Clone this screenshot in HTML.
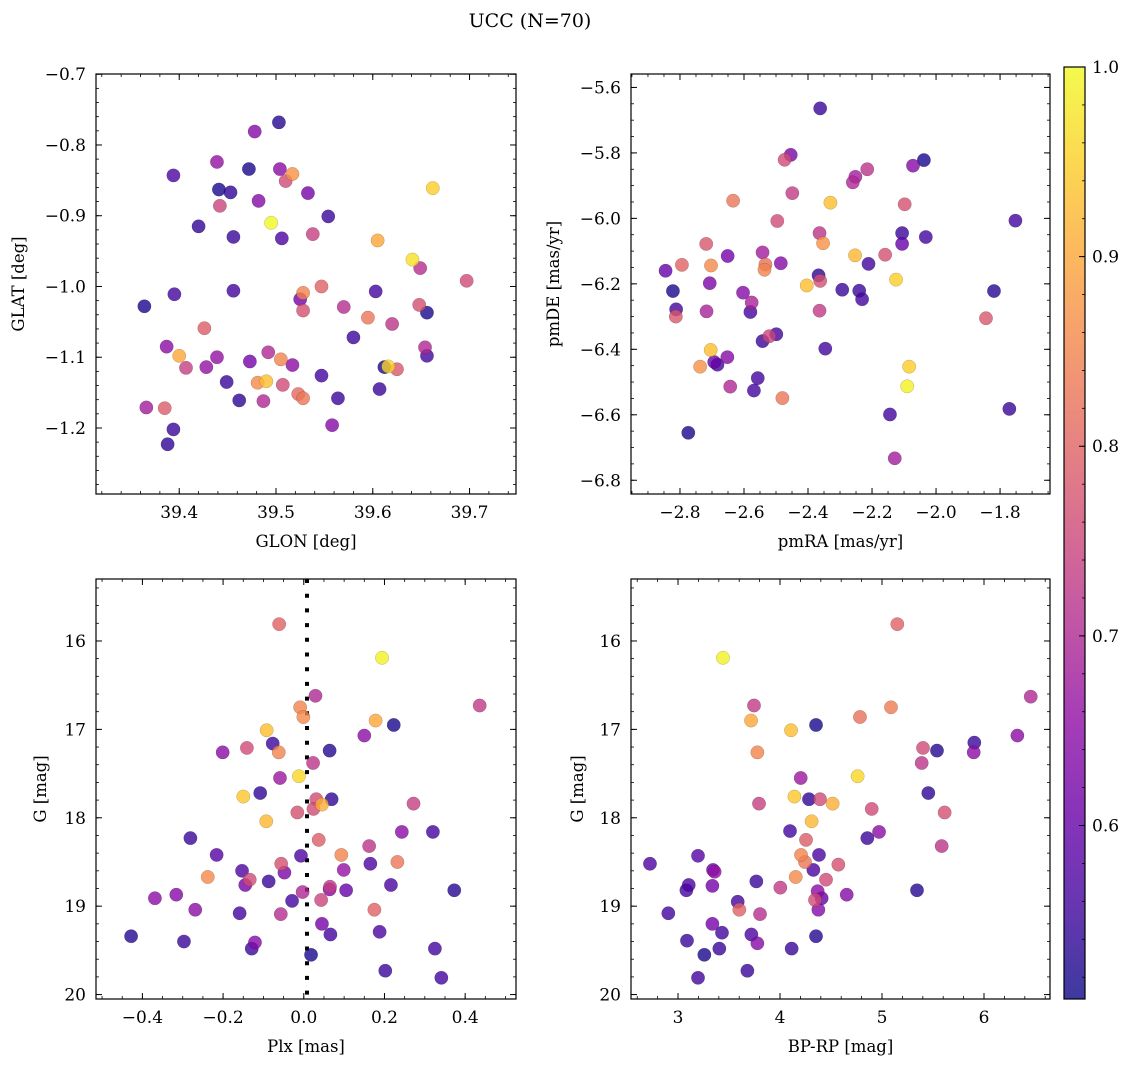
<!DOCTYPE html>
<html><head><meta charset="utf-8"><title>UCC (N=70)</title>
<style>
html,body{margin:0;padding:0;background:#fff;}
svg{display:block;font-family:"DejaVu Serif","Liberation Serif",serif;}
</style></head>
<body>
<svg id="fig" width="1136" height="1067" viewBox="0 0 1136 1067" xmlns="http://www.w3.org/2000/svg">
<defs><linearGradient id="cbgrad" x1="0" y1="1" x2="0" y2="0"></linearGradient></defs>
<text x="530" y="27" font-size="19" text-anchor="middle">UCC (N=70)</text>
</svg>
<script>
// ---- Panel 1: GLON vs GLAT ----
const p1Glon=[39.503,39.478,39.439,39.472,39.504,39.517,39.394,39.510,39.441,39.453,39.533,39.662,39.482,39.442,39.554,39.495,39.420,39.538,39.456,39.506,39.605,39.641,39.649,39.697,39.547,39.528,39.525,39.528,39.456,39.395,39.364,39.603,39.570,39.648,39.656,39.595,39.620,39.426,39.580,39.387,39.654,39.656,39.400,39.492,39.439,39.505,39.473,39.517,39.407,39.428,39.612,39.616,39.625,39.547,39.449,39.481,39.490,39.507,39.607,39.462,39.487,39.523,39.528,39.564,39.366,39.385,39.558,39.394,39.388];
const p1Glat=[-0.768,-0.781,-0.824,-0.834,-0.834,-0.841,-0.843,-0.851,-0.863,-0.867,-0.868,-0.861,-0.879,-0.886,-0.901,-0.910,-0.915,-0.926,-0.930,-0.932,-0.935,-0.962,-0.974,-0.992,-1.000,-1.009,-1.018,-1.034,-1.006,-1.011,-1.028,-1.007,-1.029,-1.026,-1.037,-1.044,-1.053,-1.059,-1.072,-1.085,-1.086,-1.098,-1.098,-1.093,-1.100,-1.103,-1.106,-1.111,-1.115,-1.114,-1.114,-1.113,-1.117,-1.126,-1.135,-1.136,-1.134,-1.139,-1.145,-1.161,-1.162,-1.152,-1.158,-1.158,-1.171,-1.172,-1.196,-1.202,-1.223];
const p1Prob=[0.53,0.64,0.66,0.52,0.65,0.87,0.57,0.76,0.52,0.54,0.62,0.95,0.64,0.75,0.55,1.0,0.54,0.74,0.55,0.57,0.9,0.97,0.71,0.76,0.8,0.85,0.62,0.77,0.56,0.56,0.52,0.56,0.71,0.77,0.52,0.83,0.72,0.79,0.55,0.65,0.70,0.56,0.9,0.70,0.66,0.85,0.62,0.65,0.74,0.66,0.52,0.96,0.78,0.56,0.55,0.86,0.93,0.76,0.55,0.54,0.70,0.81,0.83,0.55,0.68,0.79,0.64,0.55,0.54];
// ---- Panel 2: pmRA vs pmDE ----
const p2Pmra=[-2.362,-2.454,-2.473,-2.038,-2.072,-2.215,-2.252,-2.260,-2.449,-2.634,-2.330,-2.098,-2.496,-1.752,-2.364,-2.106,-2.353,-2.106,-2.032,-2.718,-2.651,-2.542,-2.253,-2.159,-2.845,-2.794,-2.703,-2.533,-2.536,-2.485,-2.211,-2.125,-2.404,-2.367,-2.362,-2.822,-2.707,-2.293,-2.240,-2.231,-1.819,-2.603,-2.576,-2.580,-2.812,-2.813,-2.717,-2.364,-1.844,-2.542,-2.499,-2.521,-2.346,-2.704,-2.693,-2.683,-2.652,-2.737,-2.084,-2.090,-2.643,-2.557,-2.569,-2.480,-2.144,-1.771,-2.774,-2.129];
const p2Pmde=[-5.664,-5.806,-5.821,-5.822,-5.839,-5.850,-5.873,-5.890,-5.923,-5.946,-5.952,-5.957,-6.008,-6.007,-6.045,-6.045,-6.076,-6.078,-6.057,-6.078,-6.115,-6.104,-6.113,-6.111,-6.160,-6.142,-6.144,-6.141,-6.157,-6.137,-6.139,-6.187,-6.205,-6.174,-6.191,-6.222,-6.198,-6.218,-6.221,-6.247,-6.222,-6.227,-6.257,-6.286,-6.278,-6.300,-6.284,-6.282,-6.305,-6.375,-6.354,-6.360,-6.398,-6.402,-6.439,-6.447,-6.424,-6.453,-6.453,-6.513,-6.514,-6.488,-6.526,-6.549,-6.599,-6.582,-6.655,-6.733];
const p2Prob=[0.55,0.63,0.76,0.52,0.64,0.72,0.68,0.70,0.73,0.83,0.93,0.77,0.76,0.56,0.72,0.55,0.87,0.60,0.56,0.78,0.62,0.68,0.92,0.77,0.60,0.80,0.86,0.82,0.85,0.64,0.56,0.95,0.93,0.54,0.77,0.52,0.63,0.55,0.55,0.56,0.53,0.64,0.69,0.56,0.56,0.78,0.69,0.73,0.78,0.55,0.56,0.75,0.56,0.93,0.60,0.56,0.64,0.87,0.95,0.99,0.70,0.56,0.56,0.83,0.56,0.55,0.52,0.68];
// ---- Panel 3: Plx vs G ----
const p3Plx=[-0.061,0.194,0.029,0.436,-0.009,-0.001,0.178,0.223,-0.092,0.150,-0.077,-0.141,-0.201,-0.062,0.064,0.023,-0.012,-0.059,-0.150,-0.108,0.069,0.031,0.045,0.024,-0.016,-0.093,0.272,-0.281,0.243,0.320,0.037,0.162,-0.216,-0.007,0.093,0.232,0.165,-0.056,0.099,-0.153,-0.048,-0.238,-0.134,-0.087,-0.145,0.216,0.065,0.064,0.105,0.373,-0.003,-0.316,-0.369,-0.029,0.043,-0.269,0.175,-0.159,-0.057,0.045,0.066,0.188,-0.428,-0.297,-0.121,-0.129,0.325,0.018,0.202,0.341];
const p3G=[15.81,16.19,16.62,16.73,16.75,16.86,16.90,16.95,17.01,17.07,17.16,17.21,17.26,17.26,17.24,17.38,17.53,17.55,17.76,17.72,17.79,17.79,17.85,17.90,17.94,18.04,17.84,18.23,18.16,18.16,18.25,18.32,18.42,18.43,18.42,18.50,18.52,18.52,18.59,18.60,18.62,18.67,18.70,18.72,18.76,18.76,18.78,18.81,18.82,18.82,18.84,18.87,18.91,18.94,18.93,19.04,19.04,19.08,19.09,19.20,19.32,19.29,19.34,19.40,19.41,19.48,19.48,19.55,19.73,19.81];
const p3Prob=[0.80,0.99,0.70,0.73,0.85,0.86,0.90,0.52,0.93,0.65,0.55,0.76,0.65,0.85,0.53,0.72,0.96,0.67,0.94,0.54,0.54,0.76,0.91,0.76,0.77,0.92,0.74,0.55,0.65,0.56,0.79,0.72,0.58,0.57,0.85,0.83,0.57,0.77,0.66,0.57,0.63,0.86,0.76,0.55,0.62,0.57,0.73,0.65,0.60,0.53,0.70,0.64,0.65,0.56,0.75,0.65,0.80,0.56,0.71,0.62,0.56,0.57,0.53,0.55,0.64,0.55,0.56,0.52,0.55,0.56];
const plxRef=0.008;
// ---- Panel 4: BP-RP vs G ----
const p4Bprp=[5.150,3.441,6.458,3.745,5.088,4.784,3.716,4.353,4.108,6.327,5.905,5.402,5.899,3.778,5.539,5.389,4.761,4.203,4.141,5.454,4.284,4.392,4.516,4.899,5.614,4.310,3.794,4.856,4.971,4.098,4.255,5.585,3.196,4.382,4.206,4.245,2.725,4.572,3.359,4.327,3.343,4.154,4.451,3.768,3.337,3.105,4.003,4.369,4.408,5.343,3.082,4.654,4.343,3.585,3.601,4.376,2.905,3.804,3.337,3.431,3.719,4.353,3.088,3.778,3.405,4.114,3.258,3.680,3.196];
const p4G=[15.81,16.19,16.63,16.73,16.75,16.86,16.90,16.95,17.01,17.07,17.15,17.21,17.26,17.26,17.24,17.38,17.53,17.55,17.76,17.72,17.79,17.79,17.84,17.90,17.94,18.04,17.84,18.23,18.16,18.15,18.25,18.32,18.43,18.42,18.42,18.50,18.52,18.53,18.61,18.59,18.59,18.67,18.70,18.72,18.77,18.76,18.79,18.83,18.91,18.82,18.82,18.87,18.93,18.95,19.04,19.04,19.08,19.09,19.20,19.30,19.32,19.34,19.39,19.42,19.48,19.48,19.55,19.73,19.81];
const p4Prob=[0.80,0.99,0.70,0.73,0.84,0.82,0.90,0.52,0.93,0.65,0.55,0.76,0.65,0.85,0.53,0.72,0.96,0.67,0.94,0.54,0.54,0.76,0.91,0.76,0.77,0.92,0.74,0.55,0.65,0.56,0.79,0.72,0.58,0.57,0.85,0.83,0.57,0.77,0.66,0.57,0.60,0.86,0.76,0.55,0.62,0.57,0.73,0.65,0.60,0.53,0.56,0.64,0.76,0.56,0.80,0.64,0.56,0.71,0.62,0.56,0.57,0.53,0.55,0.64,0.55,0.55,0.52,0.55,0.56];
// colorbar
const cbTicks=[0.6,0.7,0.8,0.9,1.0];
const cbMin=0.5085, cbMax=1.0;

const NS="http://www.w3.org/2000/svg";
const svg=document.getElementById('fig');
function mk(tag,attrs,parent){const e=document.createElementNS(NS,tag);for(const k in attrs)e.setAttribute(k,attrs[k]);(parent||svg).appendChild(e);return e;}
const plasma=[[13,8,135],[65,4,157],[106,0,168],[143,13,164],[177,42,144],[204,71,120],[225,100,98],[242,132,75],[252,166,54],[252,206,37],[240,249,33]];
function cmap(p){let t=(p-cbMin)/(cbMax-cbMin);t=Math.max(0,Math.min(1,t));const f=t*10,i=Math.min(9,Math.floor(f)),r=f-i;const a=plasma[i],b=plasma[i+1];return 'rgb('+[0,1,2].map(k=>Math.round(a[k]+(b[k]-a[k])*r)).join(',')+')';}
function fmt(v,d){let s=Math.abs(v)<1e-9?(0).toFixed(d):v.toFixed(d);return s.replace('-','\u2212');}

function panel(c){
  const sx=v=>c.x0+(v-c.xd[0])/(c.xd[1]-c.xd[0])*(c.x1-c.x0);
  const sy=v=>c.y0+(v-c.yd[0])/(c.yd[1]-c.yd[0])*(c.y1-c.y0);
  const g=mk('g',{});
  
  
  if(c.vline!==undefined){
    const l=mk('line',{x1:sx(c.vline),x2:sx(c.vline),y1:c.y0,y2:c.y1,stroke:'#000','stroke-width':4,'stroke-dasharray':'4 10.7'},g);
    
    
  }
  const idx=c.xs.map((_,i)=>i).sort((a,b)=>c.ps[a]-c.ps[b]);
  idx.forEach(i=>{
    const ci=mk('circle',{cx:sx(c.xs[i]),cy:sy(c.ys[i]),r:6.7,fill:cmap(c.ps[i]),'fill-opacity':0.8,stroke:'rgba(0,0,0,0.25)','stroke-width':0.5},g);
    
    
  });
  const fr=mk('rect',{x:c.x0,y:c.y0,width:c.x1-c.x0,height:c.y1-c.y0,fill:'none',stroke:'#000','stroke-width':1.2},g);
  
  
  const xmin=Math.min(...c.xd),xmax=Math.max(...c.xd);
  for(let v=Math.ceil(xmin/c.xminor-1e-6)*c.xminor;v<=xmax+1e-9;v+=c.xminor){
    const X=sx(v);mk('line',{x1:X,x2:X,y1:c.y1,y2:c.y1-3,stroke:'#000','stroke-width':0.8},g);mk('line',{x1:X,x2:X,y1:c.y0,y2:c.y0+3,stroke:'#000','stroke-width':0.8},g);}
  c.xmaj.forEach(v=>{const X=sx(v);mk('line',{x1:X,x2:X,y1:c.y1,y2:c.y1-6,stroke:'#000','stroke-width':1},g);mk('line',{x1:X,x2:X,y1:c.y0,y2:c.y0+6,stroke:'#000','stroke-width':1},g);
    const t=mk('text',{x:X,y:c.y1+24,'font-size':17,'text-anchor':'middle'},g);t.textContent=fmt(v,c.xdec);
    
    });
  const ymin=Math.min(...c.yd),ymax=Math.max(...c.yd);
  for(let v=Math.ceil(ymin/c.yminor-1e-6)*c.yminor;v<=ymax+1e-9;v+=c.yminor){
    const Y=sy(v);mk('line',{x1:c.x0,x2:c.x0+3,y1:Y,y2:Y,stroke:'#000','stroke-width':0.8},g);mk('line',{x1:c.x1,x2:c.x1-3,y1:Y,y2:Y,stroke:'#000','stroke-width':0.8},g);}
  c.ymaj.forEach(v=>{const Y=sy(v);mk('line',{x1:c.x0,x2:c.x0+6,y1:Y,y2:Y,stroke:'#000','stroke-width':1},g);mk('line',{x1:c.x1,x2:c.x1-6,y1:Y,y2:Y,stroke:'#000','stroke-width':1},g);
    const t=mk('text',{x:c.x0-10,y:Y+6,'font-size':17,'text-anchor':'end'},g);t.textContent=fmt(v,c.ydec);
    
    });
  const xl=mk('text',{x:(c.x0+c.x1)/2,y:c.y1+53,'font-size':16.5,'text-anchor':'middle'},g);xl.textContent=c.xlabel;
  
  
  const yl=mk('text',{x:0,y:0,'font-size':16.5,'text-anchor':'middle',transform:'translate('+(c.ylx)+','+((c.y0+c.y1)/2)+') rotate(-90)'},g);yl.textContent=c.ylabel;
  
  
}
panel({name:'glon-glat-panel',x0:96,x1:516,y0:74,y1:494,xd:[39.314,39.748],yd:[-0.6997,-1.2933],xs:p1Glon,ys:p1Glat,ps:p1Prob,xmaj:[39.4,39.5,39.6,39.7],xminor:0.02,ymaj:[-0.7,-0.8,-0.9,-1.0,-1.1,-1.2],yminor:0.02,xdec:1,ydec:1,xlabel:'GLON [deg]',ylabel:'GLAT [deg]',ylx:24});
panel({name:'pm-panel',x0:631,x1:1050,y0:74,y1:494,xd:[-2.953,-1.644],yd:[-5.559,-6.842],xs:p2Pmra,ys:p2Pmde,ps:p2Prob,xmaj:[-2.8,-2.6,-2.4,-2.2,-2.0,-1.8],xminor:0.05,ymaj:[-5.6,-5.8,-6.0,-6.2,-6.4,-6.6,-6.8],yminor:0.05,xdec:1,ydec:1,xlabel:'pmRA [mas/yr]',ylabel:'pmDE [mas/yr]',ylx:559});
panel({name:'plx-g-panel',x0:96,x1:516,y0:579,y1:999,xd:[-0.515,0.526],yd:[15.299,20.05],xs:p3Plx,ys:p3G,ps:p3Prob,xmaj:[-0.4,-0.2,0,0.2,0.4],xminor:0.05,ymaj:[16,17,18,19,20],yminor:0.2,xdec:1,ydec:0,xlabel:'Plx [mas]',ylabel:'G [mag]',ylx:46,vline:plxRef});
panel({name:'cmd-panel',x0:631,x1:1050,y0:579,y1:999,xd:[2.539,6.647],yd:[15.299,20.05],xs:p4Bprp,ys:p4G,ps:p4Prob,xmaj:[3,4,5,6],xminor:0.2,ymaj:[16,17,18,19,20],yminor:0.2,xdec:0,ydec:0,xlabel:'BP-RP [mag]',ylabel:'G [mag]',ylx:583});

const grad=document.getElementById('cbgrad');
for(let i=0;i<=20;i++){const p=cbMin+(cbMax-cbMin)*i/20;mk('stop',{offset:(i/20),'stop-color':cmap(p)},grad);}
const cb={x0:1064,x1:1085,y0:67,y1:999};
const cy=v=>cb.y1-(v-cbMin)/(cbMax-cbMin)*(cb.y1-cb.y0);
const cbr=mk('rect',{x:cb.x0,y:cb.y0,width:cb.x1-cb.x0,height:cb.y1-cb.y0,fill:'url(#cbgrad)','fill-opacity':0.8,stroke:'#000','stroke-width':1.2});


for(let v=0.52;v<=1.0001;v+=0.02){const Y=cy(v);mk('line',{x1:cb.x1,x2:cb.x1-3,y1:Y,y2:Y,stroke:'#000','stroke-width':0.8});}
cbTicks.forEach(v=>{const Y=cy(v);mk('line',{x1:cb.x1,x2:cb.x1-6,y1:Y,y2:Y,stroke:'#000','stroke-width':1});
  const t=mk('text',{x:cb.x1+7,y:Y+6,'font-size':17});t.textContent=v.toFixed(1);
  
  });
</script>
</body></html>
